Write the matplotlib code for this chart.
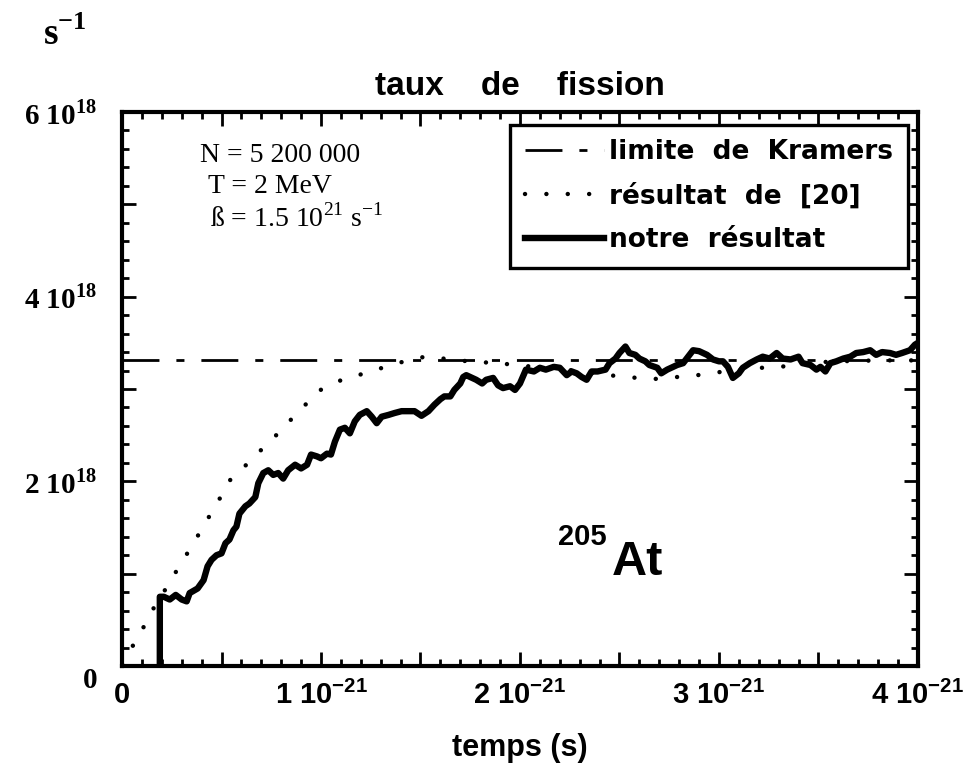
import matplotlib
matplotlib.use('Agg')
import matplotlib.pyplot as plt
from matplotlib.transforms import ScaledTranslation

plt.rcParams['mathtext.fontset'] = 'custom'
plt.rcParams['mathtext.rm'] = 'Liberation Serif'
plt.rcParams['mathtext.bf'] = 'Liberation Serif:bold'
plt.rcParams['mathtext.sf'] = 'Liberation Sans:bold'

# time in units of 1e-21 s, rate in units of 1e18 s^-1
kramers_t = [0.0, 4.0]
kramers_rate = [3.31, 3.31]

ref_t = [0.0, 0.06, 0.14, 0.175, 0.225, 0.25, 0.28, 0.31, 0.34, 0.37, 0.40, 0.43,
         0.46, 0.49, 0.52, 0.545, 0.59, 0.64, 0.69, 0.74, 0.79, 0.835, 0.885,
         0.93, 0.98, 1.07, 1.12, 1.17, 1.22, 1.27, 1.32, 1.37, 1.42, 1.47, 1.52,
         1.57, 1.70, 1.81, 1.86, 1.96, 2.2, 2.4, 2.49, 2.54, 2.59, 2.64, 2.69,
         2.74, 2.79, 2.84, 2.89, 2.94, 2.97, 3.02, 3.17, 3.27, 3.31, 3.37,
         3.41, 3.6, 3.8, 4.0]
ref_rate = [0.02, 0.24, 0.54, 0.70, 0.85, 0.95, 1.05, 1.16, 1.26, 1.37, 1.48, 1.59,
            1.70, 1.81, 1.91, 2.02, 2.11, 2.21, 2.32, 2.43, 2.53, 2.64, 2.74,
            2.85, 2.97, 3.07, 3.11, 3.14, 3.17, 3.20, 3.24, 3.27, 3.30, 3.32, 3.35,
            3.34, 3.31, 3.28, 3.30, 3.26, 3.22, 3.16, 3.14, 3.13, 3.12, 3.11, 3.11,
            3.12, 3.13, 3.14, 3.15, 3.16, 3.17, 3.19, 3.23, 3.23, 3.24, 3.26,
            3.28, 3.30, 3.31, 3.31]

our_t = [0.19, 0.19, 0.21, 0.24, 0.27, 0.30, 0.325, 0.34, 0.38, 0.41, 0.43, 0.45,
         0.475, 0.50, 0.52, 0.54, 0.56, 0.575, 0.59, 0.62, 0.64, 0.67, 0.685,
         0.71, 0.735, 0.76, 0.785, 0.81, 0.835, 0.87, 0.90, 0.93, 0.95, 0.98,
         1.00, 1.03, 1.05, 1.07, 1.095, 1.12, 1.145, 1.17, 1.195, 1.23, 1.255,
         1.28, 1.305, 1.34, 1.37, 1.405, 1.44, 1.47, 1.505, 1.54, 1.57, 1.60,
         1.62, 1.65, 1.67, 1.70, 1.715, 1.73, 1.76, 1.78, 1.81, 1.83, 1.865,
         1.89, 1.915, 1.95, 1.975, 2.00, 2.03, 2.07, 2.10, 2.13, 2.17, 2.20,
         2.235, 2.26, 2.285, 2.31, 2.335, 2.36, 2.39, 2.43, 2.45, 2.48, 2.50,
         2.53, 2.55, 2.58, 2.60, 2.63, 2.65, 2.69, 2.71, 2.74, 2.76, 2.79,
         2.82, 2.845, 2.87, 2.90, 2.94, 2.97, 3.00, 3.02, 3.045, 3.07, 3.10,
         3.12, 3.155, 3.19, 3.22, 3.255, 3.29, 3.32, 3.36, 3.40, 3.42, 3.46,
         3.49, 3.51, 3.535, 3.56, 3.59, 3.625, 3.66, 3.69, 3.725, 3.76, 3.79,
         3.82, 3.86, 3.89, 3.92, 3.96, 3.985, 4.0]
our_rate = [0.0, 0.75, 0.75, 0.72, 0.77, 0.72, 0.70, 0.79, 0.84, 0.93, 1.08, 1.15,
            1.20, 1.22, 1.33, 1.37, 1.47, 1.51, 1.65, 1.73, 1.76, 1.83, 1.98,
            2.09, 2.12, 2.07, 2.09, 2.03, 2.12, 2.18, 2.14, 2.18, 2.29, 2.27,
            2.25, 2.30, 2.29, 2.43, 2.56, 2.58, 2.52, 2.65, 2.72, 2.76, 2.70,
            2.63, 2.70, 2.72, 2.74, 2.76, 2.76, 2.76, 2.71, 2.76, 2.83, 2.89,
            2.92, 2.92, 2.99, 3.06, 3.13, 3.15, 3.12, 3.10, 3.06, 3.10, 3.12,
            3.04, 3.01, 3.03, 2.99, 3.06, 3.21, 3.19, 3.23, 3.21, 3.24, 3.23,
            3.15, 3.19, 3.17, 3.13, 3.10, 3.19, 3.19, 3.21, 3.28, 3.33, 3.39,
            3.46, 3.39, 3.37, 3.33, 3.30, 3.26, 3.23, 3.17, 3.21, 3.23, 3.26,
            3.28, 3.35, 3.42, 3.41, 3.37, 3.32, 3.30, 3.30, 3.24, 3.12, 3.17,
            3.23, 3.28, 3.32, 3.35, 3.33, 3.39, 3.33, 3.32, 3.35, 3.28, 3.26,
            3.21, 3.24, 3.19, 3.28, 3.30, 3.33, 3.35, 3.39, 3.40, 3.42, 3.37,
            3.40, 3.39, 3.37, 3.39, 3.42, 3.48, 3.50]

x_tick_pos = [0, 1, 2, 3, 4]
x_tick_labels = ['0', r'1 10$^{\mathsf{-21}}$', r'2 10$^{\mathsf{-21}}$',
                 r'3 10$^{\mathsf{-21}}$', r'4 10$^{\mathsf{-21}}$']
y_tick_pos = [0, 2, 4, 6]
y_tick_labels = ['0', r'2 10$^{\mathbf{18}}$', r'4 10$^{\mathbf{18}}$', r'6 10$^{\mathbf{18}}$']

fig = plt.figure(figsize=(9.73, 7.73), dpi=100)
ax = fig.add_axes([0.1254, 0.1384, 0.818, 0.7167])

ax.plot(kramers_t, kramers_rate, color='black', lw=2, dashes=(13.3, 6.1, 2.9, 6.1),
        label='limite  de  Kramers')
ax.plot(ref_t, ref_rate, color='black', lw=3.2, linestyle=(0, (0.01, 4.8)),
        dash_capstyle='round', label='résultat  de  [20]')
ax.plot(our_t, our_rate, color='black', lw=4.6, solid_joinstyle='round',
        label='notre  résultat')

ax.set_xlim(0, 4)
ax.set_ylim(0, 6)

# ticks: majors every 0.5 (x) / 1 (y), minors every 0.1 / 0.2
x_major = [i * 0.5 for i in range(9)]
ax.set_xticks(x_major)
ax.set_xticks([i * 0.1 for i in range(41)], minor=True)
ax.set_yticks(list(range(7)))
ax.set_yticks([i * 0.2 for i in range(31)], minor=True)
ax.set_xticklabels([x_tick_labels[x_tick_pos.index(int(v))] if v == int(v) else ''
                    for v in x_major],
                   fontfamily='Liberation Sans', fontweight='bold', fontsize=21)
ax.set_yticklabels([y_tick_labels[y_tick_pos.index(v)] if v in y_tick_pos else ''
                    for v in range(7)],
                   fontfamily='Liberation Serif', fontweight='bold', fontsize=21)
ax.tick_params(which='both', direction='in', top=True, right=True, width=2)
ax.tick_params(which='major', length=10)
ax.tick_params(which='minor', length=5)
ax.tick_params(axis='x', which='major', pad=11)
ax.tick_params(axis='y', which='major', pad=18)
# the "0" on the y axis sits a little below the axis in the original
ax.get_yticklabels()[0].set_transform(
    ax.get_yticklabels()[0].get_transform() + ScaledTranslation(0, -8 / 72, fig.dpi_scale_trans))
for sp in ax.spines.values():
    sp.set_linewidth(3)

ax.set_title('taux    de    fission', fontfamily='Liberation Sans', fontweight='bold',
             fontsize=24, pad=12)
ax.set_xlabel('temps (s)', fontfamily='Liberation Sans', fontweight='bold',
              fontsize=22, labelpad=16)

fig.text(0.044, 0.942, r's$^{\mathbf{-1}}$', fontfamily='Liberation Serif',
         fontweight='bold', fontsize=27)

serif = dict(fontfamily='Liberation Serif', fontsize=20, color='black')
ax.text(0.39, 5.46, 'N = 5 200 000', **serif)
ax.text(0.43, 5.12, 'T = 2 MeV', **serif)
ax.text(0.44, 4.76, r'ß = 1.5 10$^{21}$ s$^{-1}$', **serif)

ax.text(2.19, 1.31, '205', fontfamily='Liberation Sans', fontweight='bold', fontsize=21)
ax.text(2.46, 0.99, 'At', fontfamily='Liberation Sans', fontweight='heavy', fontsize=35)

leg = ax.legend(loc='upper right', bbox_to_anchor=(0.987, 0.977), borderaxespad=0,
                fancybox=False, framealpha=1, edgecolor='black', handlelength=3.0,
                handletextpad=0.2, labelspacing=0.68, borderpad=0.55,
                prop={'family': 'DejaVu Sans', 'weight': 'bold', 'size': 19})
leg.get_frame().set_linewidth(2.4)

fig.savefig('out.png', dpi=100)
